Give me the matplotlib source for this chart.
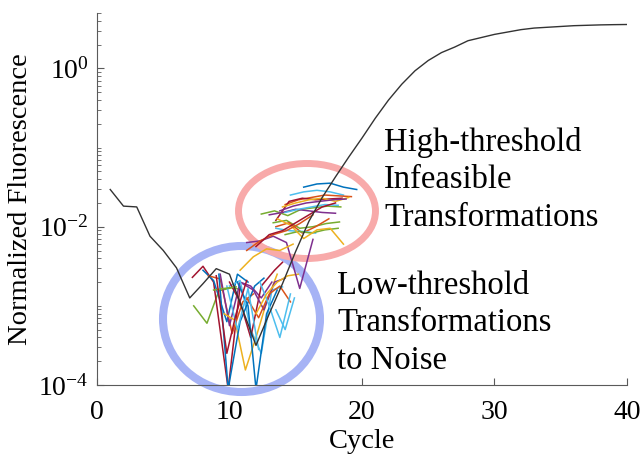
import numpy as np
import matplotlib.pyplot as plt
from matplotlib.patches import Ellipse
from matplotlib.ticker import FixedLocator, LogLocator, NullFormatter

plt.rcParams['font.family'] = 'Liberation Serif'
plt.rcParams['mathtext.fontset'] = 'custom'
plt.rcParams['mathtext.rm'] = 'Liberation Serif'
plt.rcParams['mathtext.default'] = 'regular'

# reference amplification curve (log10 of normalized fluorescence)
cycles = np.arange(1, 41)
curve_log10 = [-1.53, -1.74, -1.75, -2.12, -2.30, -2.52, -2.90, -2.72, -2.53, -2.60,
               -3.05, -3.50, -3.10, -2.72, -2.31, -1.93, -1.63, -1.37, -1.12, -0.88,
               -0.63, -0.40, -0.20, -0.03, 0.10, 0.20, 0.27, 0.35, 0.39, 0.43,
               0.46, 0.49, 0.51, 0.52, 0.53, 0.54, 0.545, 0.55, 0.553, 0.555]

# MATLAB default colour order
blue, orange, yellow, purple = '#0072BD', '#D95319', '#EDB120', '#7E2F8E'
green, cyan, red = '#77AC30', '#4DBEEE', '#A2142F'

# high-threshold transformations (infeasible)
high_x = [[15.6, 16.6, 17.6, 18.6, 19.6],
          [14.6, 15.6, 16.6, 17.6, 18.6],
          [14.2, 15.2, 16.2, 17.2, 18.2, 19.2],
          [13.5, 14.5, 15.5, 16.5, 17.5, 18.5],
          [14.0, 15.0, 16.0, 17.0, 18.0, 19.0],
          [13.8, 14.8, 15.8, 16.8, 17.8, 18.8],
          [12.4, 13.4, 14.4, 15.4, 16.4, 17.4, 18.4],
          [13.0, 14.0, 15.0, 16.0, 17.0, 18.0],
          [14.2, 15.2, 16.2, 17.2, 18.2],
          [13.3, 14.3, 15.3, 16.3, 17.3, 18.3],
          [13.5, 14.5, 15.5, 16.5, 17.5],
          [13.5, 14.5, 15.5, 16.5],
          [14.2, 15.2, 16.2, 17.2, 18.2],
          [13.6, 14.6, 15.6, 16.6, 17.6, 18.6],
          [11.3, 12.3, 13.3, 14.3, 15.3, 16.3],
          [11.3, 12.3, 13.3, 14.3, 15.3, 16.3],
          [10.8, 11.8, 12.8, 13.8, 14.8],
          [12.0, 13.0, 14.0, 15.0, 16.0, 17.0, 18.0]]
high_log10 = [[-1.50, -1.46, -1.45, -1.50, -1.53],
              [-1.60, -1.56, -1.54, -1.56, -1.60],
              [-1.72, -1.66, -1.63, -1.60, -1.61, -1.62],
              [-1.92, -1.68, -1.64, -1.66, -1.65, -1.64],
              [-1.75, -1.70, -1.66, -1.64, -1.68, -1.63],
              [-1.80, -1.74, -1.70, -1.68, -1.66, -1.65],
              [-1.84, -1.80, -1.86, -1.78, -1.76, -1.74, -1.75],
              [-1.85, -1.82, -1.78, -1.80, -1.82, -1.83],
              [-1.82, -1.78, -1.75, -1.72, -1.73],
              [-1.95, -1.92, -2.02, -2.00, -1.96, -1.94],
              [-2.00, -1.95, -2.08, -2.00, -1.90],
              [-2.02, -2.05, -2.06, -2.08],
              [-2.10, -2.06, -2.08, -2.04, -2.02],
              [-1.90, -1.98, -2.15, -2.04, -2.02, -2.22],
              [-2.20, -2.18, -2.12, -2.20, -2.78, -2.16],
              [-2.30, -2.18, -2.10, -2.05, -1.96, -1.85],
              [-2.55, -2.38, -2.28, -2.30, -2.22],
              [-2.25, -2.10, -2.05, -1.95, -1.85, -1.75, -1.70]]
high_colors = [blue, cyan, orange, red, yellow, purple, green, purple, cyan,
               green, orange, cyan, green, yellow, purple, orange, yellow, red]

# low-threshold transformations (to noise)
low_x = [[7.3, 8.3, 9.2, 10.2, 11.0],
         [7.2, 8.0, 8.8, 9.9, 10.8],
         [8.0, 8.8, 9.8, 10.6, 11.4],
         [8.4, 9.3, 10.2, 11.0, 11.8],
         [9.3, 10.0, 10.8, 11.6, 12.4, 13.2],
         [9.6, 10.4, 11.2, 12.0, 12.8, 13.6],
         [10.0, 10.8, 11.6, 12.4, 13.2, 14.0],
         [9.2, 9.9, 10.8, 11.9, 12.6],
         [10.0, 10.8, 11.6, 12.4, 13.4, 14.0],
         [10.6, 11.4, 12.0, 12.8, 13.6],
         [11.0, 11.8, 12.6, 13.4, 14.2],
         [11.3, 12.2, 13.0, 13.8, 14.6],
         [12.3, 13.0, 13.8, 14.6],
         [9.8, 10.6, 11.4, 12.2],
         [12.0, 12.8, 13.6, 14.4, 15.2],
         [8.8, 9.6, 10.5],
         [9.0, 9.8, 10.5, 11.3],
         [13.5, 14.2, 14.9]]
low_log10 = [[-3.00, -3.22, -2.81, -2.77, -2.80],
             [-2.64, -2.50, -2.70, -4.05, -2.75],
             [-2.55, -2.68, -3.20, -2.60, -2.70],
             [-2.62, -2.66, -3.35, -2.95, -2.85],
             [-2.60, -3.25, -2.70, -2.75, -2.90, -2.70],
             [-3.10, -3.18, -3.81, -3.40, -2.95, -2.60],
             [-2.75, -2.68, -3.30, -3.60, -2.80, -2.76],
             [-2.60, -4.05, -3.20, -2.75, -2.65],
             [-2.70, -2.95, -3.40, -2.75, -2.55, -2.45],
             [-2.70, -3.00, -4.05, -3.10, -2.80],
             [-2.72, -2.80, -3.05, -2.70, -2.65],
             [-2.90, -3.15, -2.85, -2.75, -2.95],
             [-2.70, -3.00, -3.40, -2.85],
             [-2.75, -3.30, -2.78, -3.55],
             [-3.10, -2.85, -2.70, -2.62, -2.60],
             [-2.80, -2.78, -2.76],
             [-2.62, -3.60, -3.10, -2.68],
             [-3.05, -3.30, -2.90]]
low_colors = [green, red, blue, orange, purple, yellow, cyan, blue, red,
              blue, purple, orange, cyan, cyan, yellow, green, red, cyan]

fig = plt.figure(figsize=(6.44, 4.58), dpi=100)
ax = fig.add_axes([0.1506, 0.1594, 0.823, 0.812])

for xs, ys, c in zip(low_x, low_log10, low_colors):
    ax.plot(xs, 10.0 ** np.array(ys), color=c, lw=1.1, zorder=3)
for xs, ys, c in zip(high_x, high_log10, high_colors):
    ax.plot(xs, 10.0 ** np.array(ys), color=c, lw=1.1, zorder=3)
ax.plot(cycles, 10.0 ** np.array(curve_log10), color='#333333', lw=1.0, zorder=4)

# highlight rings (figure coordinates)
ax.add_patch(Ellipse((0.375, 0.3035), 0.2438, 0.3188, transform=fig.transFigure,
                     fill=False, ec='#a6b3f5', lw=5.8, clip_on=False, zorder=2))
ax.add_patch(Ellipse((0.4767, 0.5393), 0.2127, 0.2074, transform=fig.transFigure,
                     fill=False, ec='#f8aaaa', lw=5.0, clip_on=False, zorder=2))

ax.set_yscale('log')
ax.set_xlim(0, 40)
ax.set_ylim(1e-4, 5)
ax.set_xticks([0, 10, 20, 30, 40])
ax.yaxis.set_major_locator(FixedLocator([1e-4, 1e-2, 1]))
ax.yaxis.set_minor_locator(LogLocator(base=10, subs=np.arange(1, 10), numticks=30))
ax.yaxis.set_minor_formatter(NullFormatter())
ax.set_yticklabels([r'$10^{-4}$', r'$10^{-2}$', r'$10^{0}$'])

for side in ['top', 'right']:
    ax.spines[side].set_visible(False)
for side in ['left', 'bottom']:
    ax.spines[side].set_color('#5a5a5a')
ax.tick_params(which='both', direction='in', colors='#5a5a5a', labelcolor='black')
ax.tick_params(which='major', length=5, labelsize=20)
ax.tick_params(axis='x', pad=11)
ax.tick_params(axis='y', pad=6)
ax.tick_params(which='minor', length=3)

ax.set_xlabel('Cycle', fontsize=20.5, labelpad=3)
ax.set_ylabel('Normalized Fluorescence', fontsize=20.5, labelpad=4)

# va='baseline' puts the last line's baseline at y
fig.text(384 / 644, 1 - 226 / 458, 'High-threshold\nInfeasible\nTransformations',
         fontsize=23.5, va='baseline', ha='left', linespacing=1.3)
fig.text(337 / 644, 1 - 369 / 458, 'Low-threshold\nTransformations\nto Noise',
         fontsize=23.5, va='baseline', ha='left', linespacing=1.3)

fig.savefig('out.png', dpi=100)
